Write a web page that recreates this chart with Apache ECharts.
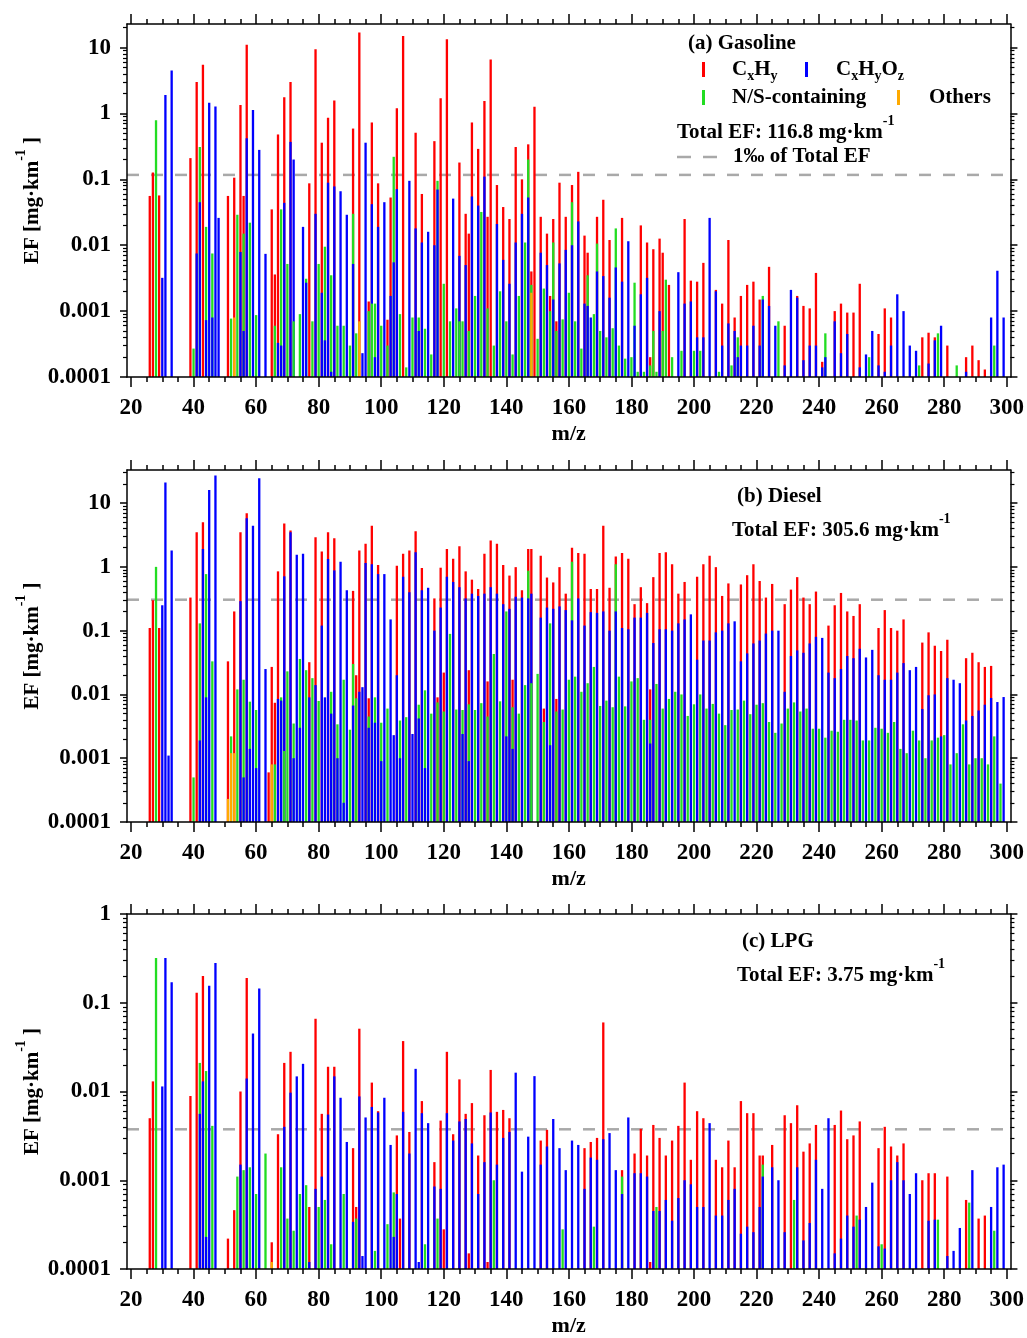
<!DOCTYPE html>
<html>
<head>
<meta charset="utf-8">
<script src="https://cdn.jsdelivr.net/npm/echarts@6/dist/echarts.min.js"></script>
<style>
  html, body { margin: 0; padding: 0; background: #fff; }
  #chart { width: 1027px; height: 1338px; }
</style>
</head>
<body>
<div id="chart"></div>
<script>
// ---- Emission factors (mg/km) by m/z, split by ion class ----

// (a) Gasoline
const gasCH = [[26,0.056],[27,0.127],[29,0.057],[39,0.21],[41,3.0],[43,5.5],[51,0.056],[53,0.106],[55,1.34],[56,0.056],[57,11],[65,0.035],[66,0.0036],[67,0.48],[69,1.76],[71,3.0],[77,0.087],[79,9.4],[81,0.36],[83,0.86],[85,1.57],[91,0.59],[93,17],[96,0.0014],[97,0.73],[99,0.087],[102,0.00074],[103,0.053],[105,1.2],[107,15],[111,0.51],[113,0.06],[117,0.38],[119,1.7],[121,13.4],[125,0.18],[127,0.03],[128,0.015],[129,0.73],[131,0.29],[133,1.55],[134,0.027],[135,6.6],[137,0.082],[139,0.038],[141,0.025],[143,0.31],[145,0.1],[147,0.34],[148,0.004],[149,1.26],[151,0.027],[153,0.015],[154,0.0017],[155,0.025],[156,0.0007],[157,0.089],[159,0.027],[161,0.082],[163,0.13],[165,0.014],[166,0.0077],[169,0.027],[171,0.049],[173,0.012],[177,0.026],[183,0.02],[185,0.011],[186,0.0002],[187,0.0087],[189,0.0126],[190,0.0077],[192,0.0025],[197,0.025],[199,0.0029],[201,0.0028],[203,0.0054],[207,0.0021],[209,0.0013],[211,0.012],[213,0.0008],[215,0.0017],[217,0.0025],[219,0.0028],[221,0.0015],[224,0.0047],[229,0.0006],[233,0.0017],[235,0.0012],[237,0.0011],[239,0.0038],[241,0.00017],[245,0.001],[247,0.0013],[249,0.00095],[251,0.00095],[253,0.0026],[259,0.00045],[261,0.0011],[263,0.0008],[273,0.0004],[275,0.00047],[277,0.0004],[281,0.0003],[287,0.0002],[289,0.0003],[291,0.00018],[293,0.00013]];
const gasCHO = [[30,0.0032],[31,1.9],[33,4.5],[41,0.0075],[42,0.045],[44,0.00073],[45,1.45],[46,0.0008],[47,1.28],[48,0.026],[55,0.0079],[56,0.0005],[57,0.42],[59,1.13],[61,0.28],[63,0.0074],[67,0.00033],[68,0.0003],[69,0.044],[71,0.37],[72,0.2],[75,0.019],[76,0.0027],[79,0.03],[81,0.0019],[82,0.00036],[83,0.089],[84,0.00012],[85,0.078],[87,0.066],[89,0.029],[91,0.0052],[94,0.00023],[95,0.36],[97,0.042],[98,0.0002],[99,0.019],[101,0.045],[103,0.0017],[104,0.0055],[105,0.071],[109,0.095],[111,0.018],[112,0.0005],[113,0.011],[115,0.016],[117,0.01],[118,0.07],[123,0.051],[125,0.0069],[127,0.005],[129,0.055],[131,0.04],[133,0.11],[137,0.021],[139,0.006],[141,0.0026],[143,0.011],[145,0.03],[147,0.053],[151,0.0077],[153,0.005],[155,0.0015],[157,0.0053],[159,0.0085],[161,0.01],[163,0.023],[165,0.0013],[166,0.0012],[167,0.0008],[169,0.004],[171,0.0034],[173,0.0016],[175,0.0046],[177,0.0028],[179,0.0115],[181,0.0006],[183,0.0018],[185,0.0032],[189,0.001],[195,0.0039],[197,0.0013],[199,0.0014],[201,0.0004],[203,0.0004],[205,0.026],[207,0.002],[209,0.0003],[211,0.00065],[213,0.0005],[214,0.0002],[215,0.0003],[217,0.0003],[219,0.0006],[221,0.0003],[222,0.0015],[224,0.0012],[226,0.0006],[229,0.00015],[231,0.0021],[233,0.0016],[235,0.00018],[237,0.0003],[239,0.0003],[241,0.00014],[242,0.0002],[245,0.0007],[247,0.00023],[249,0.00045],[253,0.00014],[255,0.00022],[257,0.0005],[259,0.00015],[261,0.00012],[263,0.0003],[265,0.0018],[267,0.001],[269,0.0003],[271,0.00025],[275,0.00016],[277,0.00036],[279,0.0006],[284,0.0001],[287,0.00012],[295,0.0008],[297,0.0041],[299,0.0008]];
const gasNS = [[28,0.79],[40,0.00027],[42,0.31],[44,0.019],[46,0.0075],[52,0.00077],[54,0.029],[56,0.015],[58,0.022],[60,0.00087],[66,0.0006],[68,0.035],[70,0.0052],[72,0.0007],[74,0.0009],[76,0.0031],[78,0.0007],[80,0.0052],[82,0.0095],[84,0.0035],[86,0.0006],[88,0.0006],[90,0.0003],[91,0.03],[92,0.00046],[96,0.001],[97,0.0013],[98,0.0013],[100,0.0006],[102,0.0003],[104,0.22],[106,0.0009],[108,0.00014],[110,0.0008],[112,0.0008],[114,0.00054],[116,0.00022],[118,0.095],[120,0.0026],[122,0.0007],[124,0.0011],[125,0.0007],[126,0.0007],[128,0.0005],[130,0.0017],[132,0.032],[134,0.0011],[136,0.0003],[138,0.002],[140,0.0007],[142,0.00022],[144,0.0017],[146,0.011],[147,0.2],[148,0.0025],[150,0.00038],[152,0.0022],[154,0.001],[155,0.011],[156,0.0005],[158,0.00075],[160,0.0019],[161,0.045],[162,0.0007],[164,0.00027],[166,0.0035],[168,0.0009],[169,0.0106],[170,0.0005],[172,0.0004],[174,0.00055],[175,0.018],[176,0.0003],[178,0.00019],[180,0.0002],[181,0.0027],[182,0.00012],[184,0.00012],[186,0.00015],[187,0.0005],[188,0.00012],[190,0.0005],[191,0.003],[193,0.0002],[196,0.00025],[200,0.00025],[202,0.00025],[208,0.00012],[212,0.00015],[214,0.0004],[222,0.0017],[227,0.0007],[242,0.00046],[256,0.0002],[272,0.00015],[278,0.00046],[284,0.00015],[296,0.0003]];
const gasOT = [[53,0.0008],[93,0.0007],[148,0.0019]];

// (b) Diesel
const dslCH = [[26,0.11],[27,0.3],[29,0.11],[39,0.33],[41,3.5],[43,5.0],[51,0.033],[53,0.2],[55,3.5],[57,6.9],[64,0.0006],[65,0.027],[66,0.0074],[67,0.85],[69,4.8],[71,3.7],[77,0.032],[79,2.9],[81,1.74],[83,3.5],[85,2.8],[91,0.42],[92,0.02],[93,1.8],[95,2.3],[96,0.0087],[97,4.4],[99,1.07],[105,1.04],[107,1.6],[109,1.8],[111,3.6],[113,0.96],[117,0.32],[118,0.009],[119,0.97],[120,0.022],[121,1.9],[123,1.34],[125,2.1],[127,0.85],[128,0.024],[129,0.63],[131,0.45],[133,1.6],[134,0.016],[135,2.6],[137,2.3],[139,1.07],[141,0.73],[142,0.017],[143,0.99],[145,0.43],[147,1.9],[148,1.9],[151,1.5],[152,0.006],[153,0.68],[155,0.57],[156,0.0085],[157,0.99],[159,0.38],[161,2.0],[163,1.65],[165,1.6],[167,0.45],[169,0.45],[171,4.4],[173,0.47],[175,1.45],[177,1.65],[179,1.34],[181,0.26],[183,0.48],[185,0.27],[186,0.012],[187,0.69],[189,1.65],[191,1.7],[193,1.1],[195,0.38],[197,0.58],[201,0.7],[203,1.1],[205,1.5],[207,0.99],[209,0.35],[211,0.55],[215,0.53],[217,0.74],[219,1.1],[221,0.6],[223,0.33],[225,0.54],[229,0.26],[231,0.44],[233,0.69],[235,0.33],[237,0.26],[239,0.41],[243,0.12],[245,0.25],[247,0.39],[249,0.2],[251,0.17],[253,0.26],[259,0.11],[261,0.21],[263,0.11],[265,0.1],[267,0.15],[273,0.065],[275,0.094],[277,0.058],[279,0.048],[281,0.072],[287,0.037],[289,0.045],[291,0.032],[293,0.027],[295,0.028]];
const dslCHO = [[30,0.25],[31,21],[32,0.0011],[33,1.8],[42,0.0019],[43,1.9],[44,0.009],[45,16],[47,27],[55,0.29],[56,0.0005],[57,5.8],[58,0.0014],[59,4.4],[60,0.0007],[61,24.5],[63,0.025],[67,0.0085],[68,0.008],[69,0.71],[71,3.5],[72,0.001],[73,1.55],[74,0.003],[75,1.6],[77,0.009],[79,0.014],[81,0.12],[82,0.009],[83,1.33],[84,0.005],[85,0.88],[86,0.001],[87,1.2],[88,0.0002],[89,0.43],[91,0.0067],[93,0.011],[94,0.013],[95,1.15],[96,0.003],[97,1.1],[98,0.0036],[99,0.77],[100,0.0009],[101,0.77],[103,0.15],[104,0.0023],[105,0.02],[106,0.001],[107,0.7],[109,0.4],[110,0.0024],[111,1.7],[112,0.0042],[113,0.43],[114,0.0007],[115,0.47],[117,0.1],[119,0.23],[121,0.7],[123,0.58],[125,0.48],[126,0.0024],[127,0.32],[128,0.0009],[129,0.38],[131,0.35],[133,0.38],[135,0.48],[137,0.38],[139,0.26],[140,0.0022],[141,0.22],[142,0.0014],[143,0.34],[145,0.33],[147,0.32],[148,0.38],[151,0.16],[153,0.23],[154,0.0016],[155,0.22],[157,0.24],[159,0.21],[161,0.145],[163,0.32],[165,0.12],[167,0.195],[169,0.19],[171,0.2],[173,0.1],[175,0.2],[177,0.11],[179,0.105],[181,0.16],[183,0.16],[185,0.19],[186,0.0017],[187,0.064],[189,0.105],[191,0.105],[193,0.1],[195,0.13],[197,0.15],[199,0.18],[201,0.035],[203,0.07],[205,0.07],[207,0.094],[209,0.1],[211,0.13],[213,0.14],[215,0.033],[217,0.044],[219,0.063],[221,0.07],[223,0.09],[225,0.1],[227,0.1],[229,0.011],[231,0.04],[233,0.049],[235,0.045],[237,0.063],[239,0.08],[241,0.077],[243,0.022],[245,0.018],[247,0.025],[249,0.04],[251,0.037],[253,0.052],[255,0.038],[257,0.05],[259,0.02],[261,0.017],[263,0.017],[265,0.022],[267,0.031],[269,0.024],[271,0.027],[273,0.0059],[275,0.0097],[277,0.01],[279,0.0022],[281,0.018],[283,0.017],[285,0.015],[287,0.0039],[289,0.0046],[291,0.0056],[293,0.0069],[295,0.0088],[297,0.0076],[299,0.0091]];
const dslNS = [[28,1.0],[40,0.0005],[42,0.13],[44,0.77],[46,0.033],[52,0.0022],[54,0.012],[56,0.017],[58,0.0077],[60,0.0057],[66,0.0008],[68,0.009],[69,0.0013],[70,0.023],[72,0.0035],[74,0.036],[76,0.024],[78,0.018],[80,0.0079],[84,0.011],[86,0.0034],[88,0.017],[90,0.0028],[91,0.03],[92,0.0087],[96,0.0045],[98,0.009],[100,0.0036],[102,0.006],[106,0.0039],[108,0.0044],[112,0.0069],[114,0.0116],[116,0.005],[118,0.0075],[120,0.0054],[122,0.089],[124,0.0058],[126,0.0057],[128,0.007],[130,0.0057],[132,0.0073],[134,0.0045],[136,0.043],[138,0.0078],[140,0.2],[142,0.0063],[144,0.005],[146,0.014],[147,0.87],[148,0.015],[150,0.021],[152,0.0037],[154,0.13],[156,0.0054],[158,0.0058],[160,0.017],[161,1.2],[162,0.019],[164,0.011],[166,0.015],[168,0.027],[170,0.0066],[172,0.008],[174,0.0063],[175,1.1],[176,0.019],[178,0.0065],[180,0.016],[182,0.018],[184,0.004],[186,0.004],[188,0.0146],[190,0.006],[192,0.0085],[194,0.011],[196,0.01],[198,0.0046],[200,0.007],[202,0.01],[204,0.006],[206,0.0071],[208,0.005],[210,0.0033],[212,0.0057],[214,0.0058],[216,0.008],[218,0.0049],[220,0.0069],[222,0.0073],[224,0.0037],[226,0.0025],[228,0.0035],[230,0.006],[232,0.0075],[234,0.0054],[236,0.006],[238,0.0029],[240,0.0029],[242,0.0021],[244,0.0027],[246,0.0026],[248,0.004],[250,0.004],[252,0.0039],[254,0.0019],[256,0.0019],[258,0.003],[260,0.0029],[262,0.0025],[264,0.0037],[266,0.0014],[268,0.0012],[270,0.0027],[272,0.0019],[274,0.001],[276,0.0019],[278,0.0021],[280,0.0023],[282,0.0008],[284,0.0012],[286,0.0034],[288,0.0008],[290,0.001],[292,0.001],[294,0.0008],[296,0.0022],[298,0.0004]];
const dslOT = [[51,0.00023],[52,0.0012],[53,0.0012],[65,0.0008]];

// (c) LPG
const lpgCH = [[26,0.005],[27,0.013],[39,0.0089],[41,0.13],[43,0.2],[51,0.00022],[53,0.00046],[55,0.01],[57,0.19],[65,0.0002],[67,0.0033],[69,0.021],[71,0.028],[77,0.0005],[79,0.066],[81,0.0056],[83,0.019],[85,0.019],[91,0.0023],[92,0.0005],[93,0.051],[97,0.0126],[99,0.006],[105,0.0032],[106,0.00037],[107,0.037],[109,0.0035],[113,0.0078],[117,0.0016],[119,0.0047],[120,0.00028],[121,0.028],[123,0.0033],[125,0.0137],[127,0.0056],[128,0.00015],[129,0.0074],[131,0.0019],[133,0.0054],[134,0.00012],[135,0.0175],[137,0.0059],[139,0.0062],[141,0.005],[151,0.0028],[153,0.0037],[165,0.0023],[167,0.0027],[169,0.003],[171,0.06],[177,0.0013],[181,0.002],[183,0.0038],[185,0.0019],[186,0.00012],[187,0.0042],[189,0.003],[191,0.0019],[193,0.0028],[195,0.0041],[197,0.0126],[199,0.0017],[201,0.006],[203,0.005],[207,0.0017],[209,0.0014],[211,0.0028],[213,0.0014],[215,0.0078],[217,0.0057],[219,0.0057],[221,0.0019],[222,0.0019],[225,0.0025],[229,0.0054],[231,0.0044],[233,0.007],[235,0.0021],[237,0.0026],[239,0.0042],[245,0.0042],[247,0.0061],[249,0.0029],[251,0.0032],[253,0.0046],[259,0.0023],[261,0.004],[263,0.0024],[265,0.0019],[267,0.0026],[273,0.001],[275,0.0012],[277,0.0012],[281,0.0011],[287,0.0006],[291,0.00037],[293,0.0004]];
const lpgCHO = [[30,0.0114],[31,0.32],[33,0.17],[42,0.0056],[43,0.013],[44,0.00023],[45,0.155],[47,0.28],[55,0.0015],[57,0.014],[59,0.045],[61,0.145],[69,0.004],[71,0.0097],[73,0.0148],[75,0.0205],[77,0.00012],[79,0.0008],[81,0.0011],[83,0.0055],[85,0.0148],[87,0.0085],[89,0.0027],[91,0.00034],[93,0.0088],[94,0.00014],[95,0.0051],[97,0.0067],[99,0.0058],[101,0.0085],[103,0.0025],[104,0.00023],[105,0.0007],[107,0.0059],[109,0.002],[111,0.018],[112,0.00012],[113,0.0057],[115,0.0044],[117,0.00085],[119,0.0008],[121,0.0057],[123,0.0028],[125,0.0046],[127,0.0049],[129,0.0026],[131,0.0007],[133,0.0016],[135,0.0058],[137,0.0015],[139,0.003],[141,0.0035],[143,0.0163],[145,0.00125],[147,0.0031],[149,0.0149],[151,0.0015],[153,0.0024],[155,0.0049],[157,0.0023],[159,0.0013],[161,0.0028],[163,0.0025],[165,0.0008],[167,0.0018],[169,0.0017],[171,0.0029],[173,0.0034],[175,0.0013],[177,0.0007],[179,0.0051],[181,0.0012],[183,0.0012],[185,0.0011],[187,0.00045],[189,0.00045],[191,0.0006],[193,0.00035],[195,0.00063],[197,0.001],[199,0.0009],[201,0.0005],[203,0.0005],[205,0.0044],[207,0.0004],[209,0.0004],[211,0.0006],[213,0.0008],[215,0.00025],[217,0.0003],[219,0.00026],[221,0.0005],[222,0.0011],[225,0.0014],[227,0.001],[229,0.00026],[233,0.0014],[235,0.00021],[237,0.00033],[239,0.0017],[241,0.0008],[243,0.005],[245,0.00015],[247,0.00022],[249,0.0004],[251,0.0003],[253,0.00036],[255,0.0005],[257,0.00094],[259,0.00018],[261,0.00017],[263,0.001],[265,0.0016],[267,0.001],[269,0.0007],[271,0.0012],[275,0.00035],[277,0.00036],[281,0.00014],[283,0.00016],[285,0.00029],[289,0.0013],[295,0.0005],[297,0.0014],[299,0.0015]];
const lpgNS = [[28,0.32],[42,0.021],[44,0.017],[46,0.0041],[54,0.0011],[56,0.0013],[58,0.0014],[60,0.0007],[63,0.002],[68,0.0014],[70,0.00037],[72,0.00027],[74,0.0007],[76,0.00088],[80,0.0005],[82,0.0006],[84,0.00019],[88,0.0007],[92,0.00037],[98,0.00016],[102,0.00032],[104,0.00073],[114,0.00019],[118,0.00037],[136,0.001],[158,0.00028],[168,0.0003],[177,0.0011],[188,0.0005],[222,0.0015],[232,0.0006],[252,0.0004],[260,0.00019],[278,0.00036],[288,0.00056],[296,0.00027]];
const lpgOT = [[65,0.00012]];

// Panel labels, totals (mg/km) and axis tick labels
const panelNames = ['(a) Gasoline', '(b) Diesel', '(c) LPG'];
const totalEF = [116.8, 305.6, 3.75];
const massTicks = [20, 40, 60, 80, 100, 120, 140, 160, 180, 200, 220, 240, 260, 280, 300];
const efMax = [22.8, 33, 1];
const EF_MIN = 0.0001;

// ---- Layout / style ----
const FONT = '"Liberation Serif", "Times New Roman", serif';
const CLASS_COLORS = ['#ff0000', '#0000ff', '#22dd22', '#ffaa00'];
const X_MIN = 18.72, X_MAX = 301.18;
const GRIDS = [
  { left: 127, right: 16, top: 24, height: 353 },
  { left: 127, right: 16, top: 470, height: 352 },
  { left: 127, right: 16, top: 914, height: 355 }
];

const panelSeries = [
  [gasCH, gasCHO, gasNS, gasOT],
  [dslCH, dslCHO, dslNS, dslOT],
  [lpgCH, lpgCHO, lpgNS, lpgOT]
];
const classNames = ['CxHy', 'CxHyOz', 'N/S-containing', 'Others'];

const black = '#000';
const lineW = 1.5;
const labelStyle = { color: black, fontFamily: FONT, fontWeight: 'bold', fontSize: 23 };

const minorMass = [];
for (let v = 20; v <= 300; v += 5) if (v % 20 !== 0) minorMass.push(v);

function decadeLabel(e) {
  const n = Math.round(e);
  return n >= 0 ? String(Math.pow(10, n)) : Math.pow(10, n).toFixed(-n);
}

function barRenderer(color) {
  return function (params, api) {
    const mz = api.value(0), v = api.value(1);
    const top = api.coord([mz, v]);
    const base = api.coord([mz, EF_MIN]);
    const left = api.coord([mz - 0.5, v])[0];
    const right = api.coord([mz + 0.5, v])[0];
    const w = (right - left) * 0.74;
    return {
      type: 'rect',
      shape: { x: top[0] - w / 2, y: top[1], width: w, height: base[1] - top[1] },
      style: { fill: color },
      // smaller values sit in front so every class stays visible
      z2: Math.round(200 - 20 * Math.log10(v))
    };
  };
}

const xAxes = [], yAxes = [], series = [];

GRIDS.forEach(function (g, p) {
  const maxExp = Math.log10(efMax[p]);
  const decades = [];
  for (let e = -4; e <= maxExp + 1e-9; e++) decades.push(e);
  const minorExp = [];
  for (let e = -4; e <= maxExp; e++) {
    for (let k = 2; k <= 9; k++) {
      const v = e + Math.log10(k);
      if (v <= maxExp) minorExp.push(v);
    }
  }

  const xBase = { type: 'value', gridIndex: p, min: X_MIN, max: X_MAX, z: 5,
    splitLine: { show: false }, axisLine: { show: false, onZero: false } };
  // bottom: major ticks + labels + name
  xAxes.push(Object.assign({}, xBase, {
    position: 'bottom',
    axisLine: { show: true, onZero: false, lineStyle: { color: black, width: lineW } },
    axisTick: { show: true, length: 10, customValues: massTicks, lineStyle: { color: black, width: lineW } },
    axisLabel: Object.assign({ customValues: massTicks, margin: 20 }, labelStyle),
    name: 'm/z', nameLocation: 'middle', nameGap: 46,
    nameTextStyle: { color: black, fontFamily: FONT, fontWeight: 'bold', fontSize: 22 }
  }));
  // bottom: minor ticks
  xAxes.push(Object.assign({}, xBase, {
    position: 'bottom',
    axisTick: { show: true, length: 5, customValues: minorMass, lineStyle: { color: black, width: lineW } },
    axisLabel: { show: false }
  }));
  // top: major ticks (frame)
  xAxes.push(Object.assign({}, xBase, {
    position: 'top',
    axisLine: { show: true, onZero: false, lineStyle: { color: black, width: lineW } },
    axisTick: { show: true, length: 10, customValues: massTicks, lineStyle: { color: black, width: lineW } },
    axisLabel: { show: false }
  }));
  // top: minor ticks
  xAxes.push(Object.assign({}, xBase, {
    position: 'top',
    axisTick: { show: true, length: 5, customValues: minorMass, lineStyle: { color: black, width: lineW } },
    axisLabel: { show: false }
  }));

  // log axis carrying the data
  yAxes.push({ type: 'log', logBase: 10, gridIndex: p, min: EF_MIN, max: efMax[p], show: false });
  const yLin = { type: 'value', gridIndex: p, min: -4, max: maxExp, z: 5,
    splitLine: { show: false }, axisLine: { show: false, onZero: false } };
  // left: decade ticks + labels
  yAxes.push(Object.assign({}, yLin, {
    position: 'left',
    axisLine: { show: true, onZero: false, lineStyle: { color: black, width: lineW } },
    axisTick: { show: true, length: 7, customValues: decades, lineStyle: { color: black, width: lineW } },
    axisLabel: Object.assign({ customValues: decades, margin: 16, formatter: decadeLabel }, labelStyle)
  }));
  // left: minor ticks
  yAxes.push(Object.assign({}, yLin, {
    position: 'left',
    axisTick: { show: true, length: 4, customValues: minorExp, lineStyle: { color: black, width: 1.2 } },
    axisLabel: { show: false }
  }));
  // right: decade ticks (frame)
  yAxes.push(Object.assign({}, yLin, {
    position: 'right',
    axisLine: { show: true, onZero: false, lineStyle: { color: black, width: lineW } },
    axisTick: { show: true, length: 7, customValues: decades, lineStyle: { color: black, width: lineW } },
    axisLabel: { show: false }
  }));
  // right: minor ticks
  yAxes.push(Object.assign({}, yLin, {
    position: 'right',
    axisTick: { show: true, length: 4, customValues: minorExp, lineStyle: { color: black, width: 1.2 } },
    axisLabel: { show: false }
  }));

  const xi = p * 4, yi = p * 5;
  panelSeries[p].forEach(function (data, c) {
    series.push({
      type: 'custom', name: classNames[c], xAxisIndex: xi, yAxisIndex: yi,
      data: data, renderItem: barRenderer(CLASS_COLORS[c]),
      encode: { x: 0, y: 1 }, silent: true, z: 2
    });
  });
  // 1 per mille of the total emission factor
  const thr = totalEF[p] / 1000;
  series.push({
    type: 'line', name: '1‰ of Total EF', xAxisIndex: xi, yAxisIndex: yi,
    data: [[X_MIN, thr], [X_MAX, thr]], symbol: 'none', silent: true, z: 1,
    lineStyle: { color: '#a9a9a9', width: 2.5, type: [12, 12] }
  });
});

// ---- Text annotations ----
const rich = {
  t: { fontFamily: FONT, fontWeight: 'bold', fontSize: 21, fill: black, color: black },
  sub: { fontFamily: FONT, fontWeight: 'bold', fontSize: 14, fill: black, color: black, padding: [12, 0, 0, 0] },
  sup: { fontFamily: FONT, fontWeight: 'bold', fontSize: 14, fill: black, color: black, padding: [0, 0, 24, 0] }
};
function label(x, y, text, extra) {
  return Object.assign({
    type: 'text', x: x, y: y, silent: true, z: 10,
    style: { text: text, rich: rich, fill: black, font: 'bold 21px ' + FONT,
      align: 'left', verticalAlign: 'middle', textAlign: 'left', textVerticalAlign: 'middle' }
  }, extra || {});
}
function marker(x, y, color) {
  return { type: 'rect', x: x, y: y, shape: { x: 0, y: 0, width: 3, height: 15 }, style: { fill: color }, silent: true, z: 10 };
}

const graphics = [];
const titlePos = [[688, 44], [737, 497], [742, 942]];
const totalPos = [[677, 133], [732, 531], [737, 976]];
GRIDS.forEach(function (g, p) {
  graphics.push(label(titlePos[p][0], titlePos[p][1], '{t|' + panelNames[p] + '}'));
  graphics.push(label(totalPos[p][0], totalPos[p][1], '{t|Total EF: ' + totalEF[p] + ' mg·km}{sup|-1}'));
  // y-axis title
  graphics.push({
    type: 'text', x: 33, y: g.top + g.height / 2, rotation: Math.PI / 2, silent: true, z: 10,
    style: { text: '{t|EF [mg·km}{sup|-1}{t| ]}', rich: rich, fill: black,
      align: 'center', verticalAlign: 'middle', textAlign: 'center', textVerticalAlign: 'middle' }
  });
});
// class legend (panel a)
graphics.push(marker(702, 62, CLASS_COLORS[0]));
graphics.push(label(732, 70, '{t|C}{sub|x}{t|H}{sub|y}'));
graphics.push(marker(805, 62, CLASS_COLORS[1]));
graphics.push(label(836, 70, '{t|C}{sub|x}{t|H}{sub|y}{t|O}{sub|z}'));
graphics.push(marker(702, 90, CLASS_COLORS[2]));
graphics.push(label(732, 98, '{t|N/S-containing}'));
graphics.push(marker(897, 90, CLASS_COLORS[3]));
graphics.push(label(929, 98, '{t|Others}'));
graphics.push({ type: 'line', shape: { x1: 677, y1: 157, x2: 691, y2: 157 }, style: { stroke: '#a9a9a9', lineWidth: 2.5 }, silent: true, z: 10 });
graphics.push({ type: 'line', shape: { x1: 703, y1: 157, x2: 717, y2: 157 }, style: { stroke: '#a9a9a9', lineWidth: 2.5 }, silent: true, z: 10 });
graphics.push(label(733, 157, '{t|1‰ of Total EF}'));

const chart = echarts.init(document.getElementById('chart'), null, { renderer: 'canvas' });
chart.setOption({
  animation: false,
  backgroundColor: '#fff',
  grid: GRIDS.map(function (g) { return Object.assign({ show: false, containLabel: false }, g); }),
  xAxis: xAxes,
  yAxis: yAxes,
  series: series,
  graphic: graphics
});
</script>
</body>
</html>
